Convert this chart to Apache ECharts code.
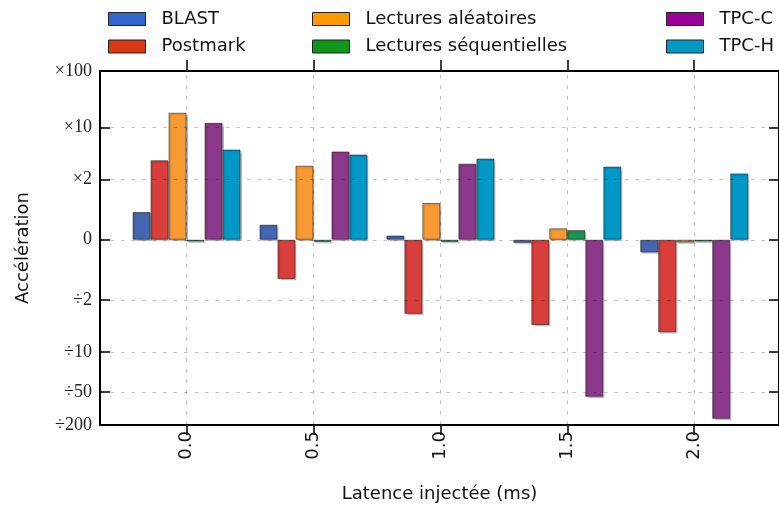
<!DOCTYPE html>
<html><head><meta charset="utf-8">
<script src="https://cdn.jsdelivr.net/npm/echarts@6/dist/echarts.min.js"></script>
<style>html,body{margin:0;padding:0;background:#fff}#c{width:779px;height:509px}</style>
</head><body><div id="c"></div>
<script>
// ---- data ----
const latencies = [0.0, 0.5, 1.0, 1.5, 2.0];
const latencyLabels = ['0.0', '0.5', '1.0', '1.5', '2.0'];
const seriesNames = ['BLAST', 'Postmark', 'Lectures aléatoires', 'Lectures séquentielles', 'TPC-C', 'TPC-H'];
// signed factors: positive = speed-up ×k, negative = slow-down ÷k
const blast = [1.46, 1.25, 1.07, -1.05, -1.21];
const postmark = [3.25, -1.65, -2.79, -3.87, -4.91];
const lecturesAleatoires = [17.9, 2.79, 1.61, 1.19, -1.045];
const lecturesSequentielles = [-1.03, -1.035, -1.035, 1.16, -1.03];
const tpcC = [12.0, 4.26, 2.95, -61, -154];
const tpcH = [4.54, 3.87, 3.42, 2.72, 2.29];
const yTickFactors = [100, 10, 2, 1, -2, -10, -50, -200];
const yTickLabels = ['×100', '×10', '×2', '0', '÷2', '÷10', '÷50', '÷200'];

const barColors = ['#4466b0', '#d93e3a', '#f79a33', '#1b9652', '#8c398b', '#0098c6'];
const legendColors = ['#3366cc', '#dc3912', '#ff9900', '#109618', '#990099', '#0099c6'];

// ---- symlog transform (linthresh 1, linscale 1, base 10) ----
const LIN = 1 / (1 - 1 / 10);
function excess(f) { return f >= 1 ? f - 1 : (f <= -1 ? f + 1 : 0); }
function symlog(x) { const a = Math.abs(x); return a <= 1 ? x * LIN : Math.sign(x) * (LIN + Math.log10(a)); }
const tr = f => symlog(excess(f));

const yTickVals = yTickFactors.map(tr);
const yMin = tr(-200), yMax = tr(100);

function yLabel(v) {
  let best = 0, d = Infinity;
  yTickVals.forEach((t, i) => { const dd = Math.abs(t - v); if (dd < d) { d = dd; best = i; } });
  return yTickLabels[best];
}
function xLabel(v) {
  let best = 0, d = Infinity;
  latencies.forEach((t, i) => { const dd = Math.abs(t - v); if (dd < d) { d = dd; best = i; } });
  return latencyLabels[best];
}

const allData = [blast, postmark, lecturesAleatoires, lecturesSequentielles, tpcC, tpcH];
const gridStyle = { color: 'rgba(0,0,0,0.25)', width: 1, type: [3.5, 7] };
const black = '#000';

const xMin = -0.341, xMax = 2.334;

const series = allData.map((arr, i) => ({
  name: seriesNames[i],
  type: 'bar',
  xAxisIndex: 0, yAxisIndex: 0,
  barWidth: 18,
  barGap: '0%',
  z: 2,
  data: latencies.map((x, j) => [x, tr(arr[j])]),
  itemStyle: {
    color: barColors[i],
    borderColor: 'rgba(20,20,20,0.55)',
    borderWidth: 1,
    shadowColor: 'rgba(0,0,0,0.22)',
    shadowOffsetX: 1.5, shadowOffsetY: 1.5, shadowBlur: 1
  },
  emphasis: { disabled: true }
}));

// grid lines drawn above the bars, at the same tick values as the axes
series.push({
  name: 'grille',
  type: 'line',
  xAxisIndex: 0, yAxisIndex: 0,
  data: [],
  silent: true,
  z: 5,
  markLine: {
    silent: true,
    animation: false,
    symbol: ['none', 'none'],
    label: { show: false },
    emphasis: { disabled: true },
    lineStyle: gridStyle,
    data: yTickVals.map(v => ({ yAxis: v })).concat(latencies.map(x => ({ xAxis: x })))
  }
});

function legendCol(names, left) {
  return {
    orient: 'vertical', left: left, top: 10, padding: 0,
    itemWidth: 37, itemHeight: 13, itemGap: 9.5, icon: 'rect',
    selectedMode: false,
    textStyle: { fontFamily: 'DejaVu Sans', fontSize: 18, color: '#111', lineHeight: 14, padding: [0, 0, 0, 11] },
    itemStyle: { borderColor: '#222', borderWidth: 1, shadowBlur: 0, shadowOffsetX: 0, shadowOffsetY: 0, shadowColor: 'transparent' },
    data: names.map(n => ({ name: n, itemStyle: { color: legendColors[seriesNames.indexOf(n)] } }))
  };
}

const option = {
  animation: false,
  backgroundColor: '#fff',
  legend: [
    legendCol([seriesNames[0], seriesNames[1]], 108),
    legendCol([seriesNames[2], seriesNames[3]], 312),
    legendCol([seriesNames[4], seriesNames[5]], 666)
  ],
  grid: { left: 100, top: 71, width: 680, height: 354, containLabel: false },
  xAxis: [{
    type: 'value', position: 'bottom', min: xMin, max: xMax, z: 10,
    name: 'Latence injectée (ms)', nameLocation: 'middle', nameGap: 60,
    nameTextStyle: { fontFamily: 'DejaVu Sans', fontSize: 18, color: '#111' },
    axisLine: { show: true, onZero: false, lineStyle: { color: black, width: 2 } },
    axisTick: { show: true, inside: false, length: 10, lineStyle: { color: black, width: 1.5 }, customValues: latencies },
    axisLabel: { customValues: latencies, rotate: 90, margin: 6, formatter: xLabel, fontFamily: 'DejaVu Sans', fontSize: 18, color: '#111' },
    splitLine: { show: false }
  }, {
    type: 'value', position: 'top', min: xMin, max: xMax, z: 10,
    axisLine: { show: true, onZero: false, lineStyle: { color: black, width: 2 } },
    axisTick: { show: true, inside: false, length: 11, lineStyle: { color: black, width: 1.5 }, customValues: latencies },
    axisLabel: { show: false, customValues: latencies },
    splitLine: { show: false }
  }],
  yAxis: [{
    type: 'value', position: 'left', min: yMin, max: yMax, z: 10,
    name: 'Accélération', nameLocation: 'middle', nameGap: 68, nameRotate: 90,
    nameTextStyle: { fontFamily: 'DejaVu Sans', fontSize: 18, color: '#111' },
    axisLine: { show: true, onZero: false, lineStyle: { color: black, width: 2 } },
    axisTick: { show: true, inside: true, length: 10, lineStyle: { color: black, width: 1.5 }, customValues: yTickVals },
    axisLabel: { customValues: yTickVals, formatter: yLabel, margin: 8, fontFamily: 'Liberation Serif', fontSize: 18, color: '#222' },
    splitLine: { show: false }
  }, {
    type: 'value', position: 'right', min: yMin, max: yMax, z: 10,
    axisLine: { show: true, onZero: false, lineStyle: { color: black, width: 2 } },
    axisTick: { show: true, inside: true, length: 10, lineStyle: { color: black, width: 1.5 }, customValues: yTickVals },
    axisLabel: { show: false, customValues: yTickVals },
    splitLine: { show: false }
  }],
  series: series
};

const chart = echarts.init(document.getElementById('c'), null, { renderer: 'canvas' });
chart.setOption(option);
</script>
</body></html>
